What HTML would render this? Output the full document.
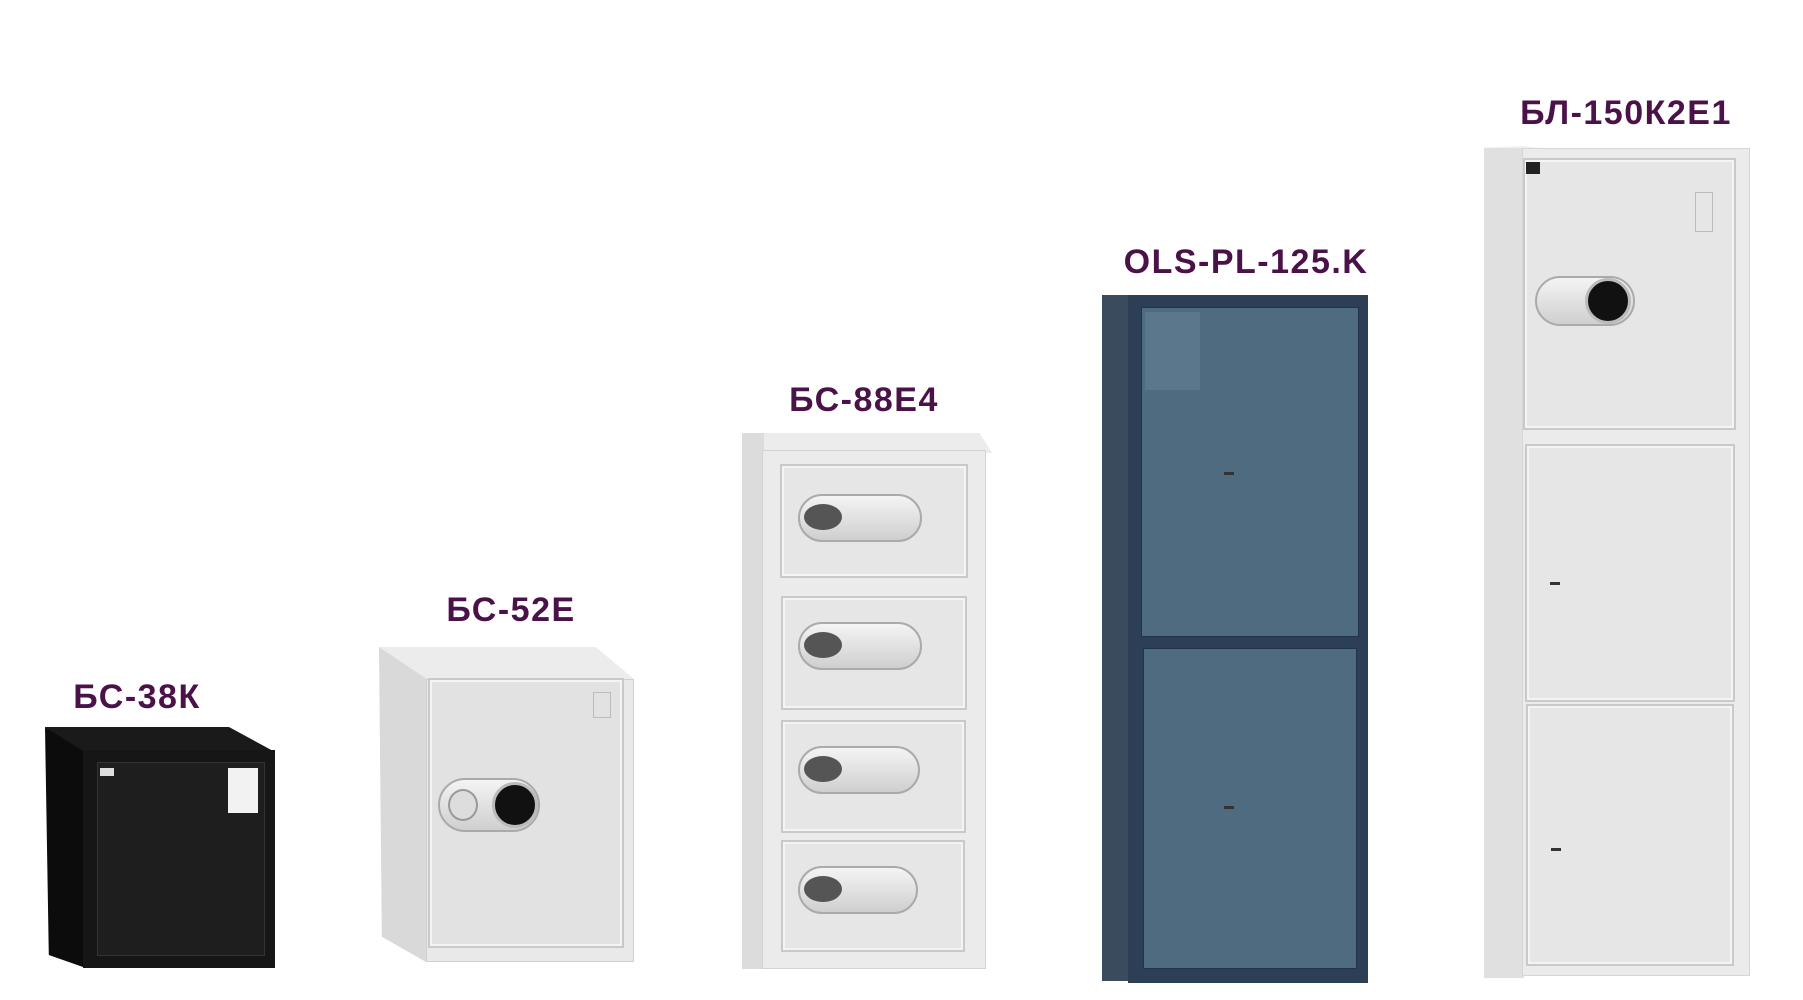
<!DOCTYPE html>
<html><head><meta charset="utf-8"><style>
*{margin:0;padding:0;box-sizing:border-box}
body{width:1803px;height:1000px;background:#fff;position:relative;overflow:hidden;font-family:"Liberation Sans",sans-serif}
.a{position:absolute}
.lbl{position:absolute;font-weight:bold;font-size:34px;color:#4a1248;transform:translateX(-50%);white-space:nowrap;letter-spacing:1.5px}
.wd{background:#e6e6e6;border:2px solid #c9c9c9;box-shadow:inset 0 0 0 2px #f4f4f4}
.kp{position:absolute;border-radius:50%;background:#111;border:3px solid #bbb}
.lk{position:absolute;border-radius:40px;background:linear-gradient(#f4f4f4,#cfcfcf);border:2px solid #aaa}
.kh{position:absolute;width:10px;height:3px;background:#333}
</style></head><body>

<div class="lbl" style="left:137px;top:678px">БС-38К</div>
<div class="lbl" style="left:511px;top:591px">БС-52Е</div>
<div class="lbl" style="left:864px;top:381px">БС-88Е4</div>
<div class="lbl" style="left:1246px;top:243px">OLS-PL-125.K</div>
<div class="lbl" style="left:1626px;top:94px">БЛ-150К2Е1</div>

<!-- БС-38К -->
<div class="a" style="left:45px;top:727px;width:230px;height:25px;background:#1a1a1a;clip-path:polygon(0 0,80% 0,100% 100%,16% 100%)"></div>
<div class="a" style="left:45px;top:727px;width:38px;height:240px;background:#0c0c0c;clip-path:polygon(0 0,100% 10%,100% 100%,10% 95%)"></div>
<div class="a" style="left:83px;top:750px;width:192px;height:218px;background:#161616"></div>
<div class="a" style="left:97px;top:762px;width:168px;height:194px;background:#1e1e1e;border:1px solid #333"></div>
<div class="a" style="left:228px;top:768px;width:30px;height:45px;background:#f2f2f2"></div>
<div class="a" style="left:100px;top:768px;width:14px;height:8px;background:#ddd"></div>

<!-- БС-52Е -->
<div class="a" style="left:379px;top:647px;width:255px;height:32px;background:#ececec;clip-path:polygon(0 0,85% 0,100% 100%,18% 100%)"></div>
<div class="a" style="left:379px;top:647px;width:47px;height:315px;background:#d9d9d9;clip-path:polygon(0 0,100% 10%,100% 100%,6% 92%)"></div>
<div class="a" style="left:426px;top:679px;width:208px;height:283px;background:#e9e9e9;border:1px solid #d0d0d0"></div>
<div class="a wd" style="left:428px;top:678px;width:196px;height:270px;background:#e2e2e2"></div>
<div class="a" style="left:593px;top:692px;width:18px;height:26px;border:1px solid #bbb"></div>
<div class="lk" style="left:438px;top:778px;width:102px;height:54px"></div>
<div class="a" style="left:448px;top:789px;width:30px;height:32px;border-radius:50%;background:#ddd;border:2px solid #999"></div>
<div class="kp" style="left:492px;top:782px;width:46px;height:46px"></div>

<!-- БС-88Е4 -->
<div class="a" style="left:742px;top:433px;width:250px;height:20px;background:#ececec;clip-path:polygon(0 0,95% 0,100% 100%,8% 100%)"></div>
<div class="a" style="left:742px;top:433px;width:22px;height:536px;background:#dcdcdc"></div>
<div class="a" style="left:762px;top:450px;width:224px;height:519px;background:#ebebeb;border:1px solid #d3d3d3"></div>
<div class="a wd" style="left:780px;top:464px;width:188px;height:114px"></div>
<div class="a wd" style="left:781px;top:596px;width:186px;height:114px"></div>
<div class="a wd" style="left:781px;top:720px;width:185px;height:113px"></div>
<div class="a wd" style="left:781px;top:840px;width:184px;height:112px"></div>
<div class="lk" style="left:798px;top:494px;width:124px;height:48px"></div>
<div class="lk" style="left:798px;top:622px;width:124px;height:48px"></div>
<div class="lk" style="left:798px;top:746px;width:122px;height:48px"></div>
<div class="lk" style="left:798px;top:866px;width:120px;height:48px"></div>
<div class="a" style="left:804px;top:504px;width:38px;height:26px;border-radius:50%;background:#555"></div>
<div class="a" style="left:804px;top:632px;width:38px;height:26px;border-radius:50%;background:#555"></div>
<div class="a" style="left:804px;top:756px;width:38px;height:26px;border-radius:50%;background:#555"></div>
<div class="a" style="left:804px;top:876px;width:38px;height:26px;border-radius:50%;background:#555"></div>

<!-- OLS -->
<div class="a" style="left:1102px;top:295px;width:28px;height:686px;background:#3a4b5d"></div>
<div class="a" style="left:1128px;top:295px;width:240px;height:688px;background:#2c3f55"></div>
<div class="a" style="left:1141px;top:307px;width:218px;height:330px;background:#4e6b7f;border:1px solid #22344a"></div>
<div class="a" style="left:1143px;top:648px;width:214px;height:321px;background:#4e6b7f;border:1px solid #22344a"></div>
<div class="a" style="left:1145px;top:312px;width:55px;height:78px;background:#5a778b"></div>
<div class="kh" style="left:1224px;top:472px"></div>
<div class="kh" style="left:1224px;top:806px"></div>

<!-- БЛ -->
<div class="a" style="left:1484px;top:146px;width:268px;height:24px;background:#f0f0f0;clip-path:polygon(0 6%,14% 0,100% 100%,10% 100%)"></div>
<div class="a" style="left:1484px;top:148px;width:40px;height:830px;background:#e0e0e0"></div>
<div class="a" style="left:1522px;top:148px;width:228px;height:828px;background:#ebebeb;border:1px solid #d6d6d6"></div>
<div class="a wd" style="left:1523px;top:158px;width:213px;height:272px"></div>
<div class="a wd" style="left:1525px;top:444px;width:210px;height:258px"></div>
<div class="a wd" style="left:1526px;top:704px;width:208px;height:262px"></div>
<div class="a" style="left:1695px;top:192px;width:18px;height:40px;border:1px solid #bbb"></div>
<div class="lk" style="left:1535px;top:276px;width:100px;height:50px"></div>
<div class="kp" style="left:1585px;top:278px;width:46px;height:46px"></div>
<div class="a" style="left:1526px;top:162px;width:14px;height:12px;background:#222"></div>
<div class="kh" style="left:1550px;top:582px"></div>
<div class="kh" style="left:1551px;top:848px"></div>
</body></html>
